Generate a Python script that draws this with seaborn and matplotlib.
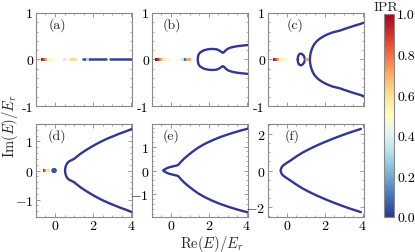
import numpy as np
import pandas as pd
import matplotlib
matplotlib.use("Agg")
import matplotlib.pyplot as plt
import seaborn as sns
from matplotlib.ticker import FixedLocator, FixedFormatter, AutoMinorLocator

# ---------------- data ----------------
panel_labels = ["(a)", "(b)", "(c)", "(d)", "(e)", "(f)"]

# real-axis eigenvalues (localized states) : Re(E) and IPR
a_pts_x = [-0.65, -0.60, -0.55, -0.50, -0.45, -0.40, -0.35, -0.30, -0.25, -0.20, -0.15, -0.12,
           0.54, 0.60, 0.66, 0.72, 0.78, 0.84, 0.90, 0.96, 1.02, 1.06, 1.71]
a_pts_ipr = [0.97, 0.93, 0.88, 0.82, 0.75, 0.66, 0.60, 0.56, 0.54, 0.52, 0.50, 0.48,
             0.36, 0.38, 0.42, 0.47, 0.52, 0.55, 0.58, 0.62, 0.66, 0.60, 0.30]
# real-axis bands (Re(E) start, end) with small IPR
a_bands = [(1.45, 2.67), (2.88, 4.05)]
a_band_ipr = [0.02, 0.02]

b_pts_x = [-0.71, -0.65, -0.59, -0.53, -0.47, -0.41, -0.35, -0.29, -0.23, -0.17, -0.12, -0.08,
           0.58, 0.63, 0.68, 0.73, 0.78, 0.82, 0.87, 0.92, 0.97]
b_pts_ipr = [0.97, 0.93, 0.88, 0.82, 0.75, 0.67, 0.60, 0.56, 0.54, 0.52, 0.50, 0.48,
             0.42, 0.40, 0.36, 0.32, 0.28, 0.08, 0.12, 0.72, 0.70]

c_pts_x = [-0.62, -0.57, -0.52, -0.47, -0.42, -0.37, -0.32, -0.27, -0.22, -0.17, -0.12, -0.09, 1.05]
c_pts_ipr = [0.97, 0.93, 0.88, 0.82, 0.75, 0.67, 0.60, 0.56, 0.54, 0.52, 0.50, 0.48, 0.72]

d_pts_x = [-0.53, -0.48, -0.43, -0.38, -0.07, -0.05, -0.03]
d_pts_ipr = [0.95, 0.85, 0.72, 0.58, 0.05, 0.04, 0.05]

# complex spectra : upper branch (Re, Im) from the nose outward, mirrored below
b_up_x = [1.42, 1.43, 1.46, 1.52, 1.62, 1.76, 1.92, 2.08, 2.25, 2.40, 2.52, 2.62, 2.70, 2.76, 2.82, 2.90, 3.00, 3.15, 3.30, 3.50, 3.70, 4.05]
b_up_y = [0.00, 0.05, 0.10, 0.14, 0.17, 0.20, 0.215, 0.225, 0.225, 0.22, 0.20, 0.175, 0.15, 0.145, 0.165, 0.20, 0.23, 0.255, 0.27, 0.285, 0.295, 0.31]

c_up_x = [1.22, 1.23, 1.26, 1.31, 1.38, 1.47, 1.60, 1.75, 1.95, 2.15, 2.40, 2.60, 2.80, 3.00, 3.30, 3.60, 3.85, 4.05]
c_up_y = [0.00, 0.07, 0.14, 0.21, 0.28, 0.34, 0.40, 0.45, 0.50, 0.54, 0.58, 0.60, 0.62, 0.65, 0.69, 0.73, 0.76, 0.79]
c_loop_x = [0.58, 0.59, 0.62, 0.67, 0.73, 0.79, 0.85, 0.90, 0.94, 0.96]
c_loop_y = [0.00, 0.05, 0.09, 0.115, 0.125, 0.12, 0.10, 0.075, 0.04, 0.00]

d_up_x = [0.53, 0.54, 0.57, 0.62, 0.69, 0.78, 0.88, 1.00, 1.15, 1.35, 1.60, 1.90, 2.20, 2.50, 2.80, 3.10, 3.40, 3.70, 4.05]
d_up_y = [0.00, 0.08, 0.16, 0.23, 0.29, 0.33, 0.36, 0.40, 0.48, 0.58, 0.69, 0.81, 0.92, 1.02, 1.11, 1.19, 1.27, 1.34, 1.43]

e_up_x = [-0.40, -0.33, -0.22, -0.10, 0.05, 0.20, 0.32, 0.40, 0.48, 0.58, 0.72, 0.90, 1.15, 1.45, 1.80, 2.20, 2.60, 3.00, 3.40, 3.75, 4.05]
e_up_y = [0.00, 0.04, 0.09, 0.13, 0.16, 0.19, 0.21, 0.24, 0.31, 0.40, 0.51, 0.63, 0.79, 0.96, 1.12, 1.27, 1.40, 1.51, 1.61, 1.69, 1.75]

f_up_x = [-0.32, -0.30, -0.25, -0.17, -0.05, 0.10, 0.30, 0.55, 0.85, 1.20, 1.60, 2.00, 2.40, 2.80, 3.20, 3.55, 3.90]
f_up_y = [0.00, 0.10, 0.20, 0.29, 0.38, 0.48, 0.62, 0.80, 0.99, 1.18, 1.38, 1.56, 1.73, 1.89, 2.04, 2.16, 2.28]

# axis limits and tick labels
xlim = (-1.0, 4.05)
ylims = [(-1, 1), (-1, 1), (-1, 1), (-1.6, 1.6), (-1.95, 1.95), (-2.55, 2.55)]
top_yticks = [-1, 0, 1]
top_yticklabels = ["-1", "0", "1"]
d_yticks = [-1, 0, 1]
e_yticks = [-1, 0, 1]
f_yticks = [-2, 0, 2]
bottom_xticks = [0, 2, 4]
cbar_ticks = [0.0, 0.2, 0.4, 0.6, 0.8, 1.0]
cbar_ticklabels = ["0.0", "0.2", "0.4", "0.6", "0.8", "1.0"]

# ---------------- style ----------------
sns.set_theme(style="ticks")
plt.rcParams.update({
    "font.family": "serif",
    "font.serif": ["cmr10"],
    "mathtext.fontset": "cm",
    "font.size": 10,
    "axes.edgecolor": "#8a8a8a",
    "axes.linewidth": 0.8,
    "xtick.color": "#8a8a8a",
    "ytick.color": "#8a8a8a",
    "xtick.labelcolor": "black",
    "ytick.labelcolor": "black",
    "xtick.direction": "in",
    "ytick.direction": "in",
    "xtick.top": True,
    "ytick.right": True,
    "xtick.major.size": 3,
    "ytick.major.size": 3,
    "xtick.minor.size": 1.5,
    "ytick.minor.size": 1.5,
    "xtick.major.width": 0.6,
    "ytick.major.width": 0.6,
    "xtick.minor.width": 0.5,
    "ytick.minor.width": 0.5,
    "xtick.labelsize": 10,
    "ytick.labelsize": 10,
    "xtick.major.pad": 1.5,
    "ytick.major.pad": 2,
})

cmap = plt.get_cmap("RdYlBu_r")
norm = matplotlib.colors.Normalize(0, 1)
line_color = cmap(0.0)

fig = plt.figure(figsize=(4.15, 2.53), dpi=100)
lefts = [0.0867, 0.3655, 0.645]
w = 0.2315
bottoms = [0.577, 0.138]
h = 0.368
axes = []
for r in range(2):
    for c in range(3):
        axes.append(fig.add_axes([lefts[c], bottoms[r], w, h]))


def closed_branch(xu, yu):
    x = list(xu[::-1]) + list(xu[1:])
    y = list(yu[::-1]) + [-v for v in yu[1:]]
    return pd.DataFrame({"x": x, "y": y})


def draw_curve(ax, xu, yu):
    df = closed_branch(xu, yu)
    sns.lineplot(data=df, x="x", y="y", sort=False, estimator=None, ax=ax,
                 color=line_color, lw=1.7, legend=False)


def draw_points(ax, xs, ipr, marker="s", s=7):
    df = pd.DataFrame({"x": xs, "y": [0.0] * len(xs), "ipr": ipr})
    sns.scatterplot(data=df, x="x", y="y", hue="ipr", palette="RdYlBu_r",
                    hue_norm=(0, 1), marker=marker, s=s, linewidth=0, ax=ax,
                    legend=False, zorder=3)


# (a)
ax = axes[0]
for (x0, x1), ip in zip(a_bands, a_band_ipr):
    sns.lineplot(x=[x0, x1], y=[0, 0], ax=ax, color=cmap(norm(ip)), lw=1.8, legend=False)
draw_points(ax, a_pts_x, a_pts_ipr)

# (b)
ax = axes[1]
draw_curve(ax, b_up_x, b_up_y)
draw_points(ax, b_pts_x, b_pts_ipr)

# (c)
ax = axes[2]
draw_curve(ax, c_up_x, c_up_y)
loop = pd.DataFrame({"x": list(c_loop_x) + list(c_loop_x[::-1]),
                     "y": list(c_loop_y) + [-v for v in c_loop_y[::-1]]})
sns.lineplot(data=loop, x="x", y="y", sort=False, estimator=None, ax=ax,
             color=line_color, lw=1.7, legend=False)
draw_points(ax, c_pts_x, c_pts_ipr)

# (d)
ax = axes[3]
draw_curve(ax, d_up_x, d_up_y)
draw_points(ax, d_pts_x[:4], d_pts_ipr[:4])
draw_points(ax, d_pts_x[4:], d_pts_ipr[4:], marker="o", s=12)

# (e), (f)
draw_curve(axes[4], e_up_x, e_up_y)
draw_curve(axes[5], f_up_x, f_up_y)

label_x = [0.22, 0.21, 0.28, 0.22, 0.20, 0.25]
for i, ax in enumerate(axes):
    ax.set_xlim(*xlim)
    ax.set_ylim(*ylims[i])
    ax.set_xlabel("")
    ax.set_ylabel("")
    ax.xaxis.set_major_locator(FixedLocator(bottom_xticks))
    ax.xaxis.set_minor_locator(AutoMinorLocator(4))
    ax.yaxis.set_minor_locator(AutoMinorLocator(5 if i != 5 else 4))
    if i < 3:
        ax.set_xticklabels([])
        ax.yaxis.set_major_locator(FixedLocator(top_yticks))
        ax.yaxis.set_major_formatter(FixedFormatter(top_yticklabels))
    else:
        ax.xaxis.set_major_formatter(FixedFormatter([f"${v}$" for v in bottom_xticks]))
        yt = [d_yticks, e_yticks, f_yticks][i - 3]
        ax.yaxis.set_major_locator(FixedLocator(yt))
        ax.yaxis.set_major_formatter(FixedFormatter([f"${v}$" for v in yt]))
    ax.text(label_x[i], 0.88, panel_labels[i], transform=ax.transAxes,
            ha="center", va="center", fontsize=10)

# colorbar
cax = fig.add_axes([0.925, 0.14, 0.025, 0.801])
sm = matplotlib.cm.ScalarMappable(norm=norm, cmap=cmap)
cb = fig.colorbar(sm, cax=cax, ticks=cbar_ticks)
cb.ax.set_yticklabels(cbar_ticklabels)
cb.outline.set_edgecolor("#8a8a8a")
cb.outline.set_linewidth(0.8)
cax.tick_params(direction="in", length=2, right=True, left=False)
cax.minorticks_off()
fig.text(0.931, 0.968, "IPR", ha="center", va="center", fontsize=10)

fig.text(0.024, 0.5, r"$\mathrm{Im}(E)/E_r$", rotation=90, ha="center", va="center", fontsize=10.5)
fig.text(0.51, 0.074, r"$\mathrm{Re}(E)/E_r$", ha="center", va="top", fontsize=10.5)

fig.savefig("out.png", dpi=100)
